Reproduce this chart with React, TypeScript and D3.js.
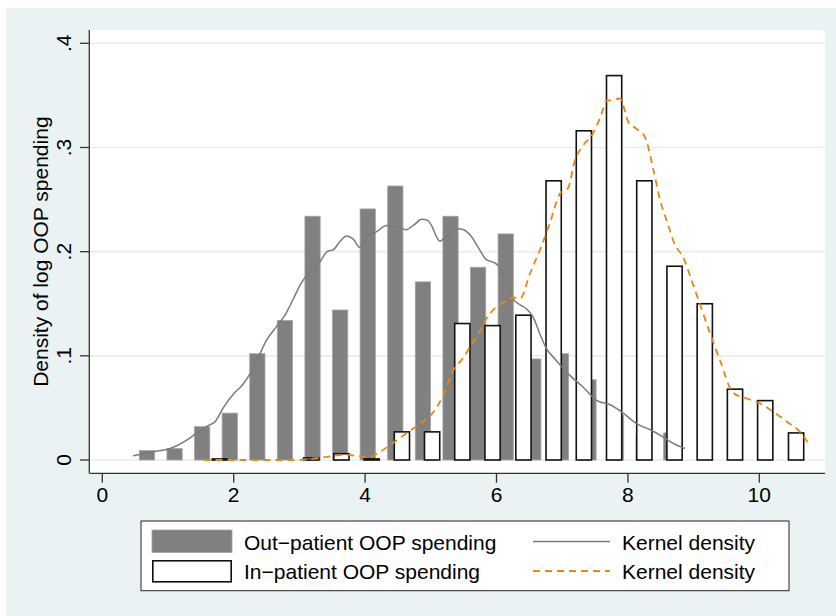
import React from 'react';
import * as d3 from 'd3';

// ---- Data ----
const X_TICKS = [0, 2, 4, 6, 8, 10];
const Y_TICKS = [0, 0.1, 0.2, 0.3, 0.4];
const Y_TICK_LABELS = ['0', '.1', '.2', '.3', '.4'];

const OUT_BINS = [0.68, 1.10, 1.52, 1.94, 2.36, 2.78, 3.20, 3.62, 4.04, 4.46, 4.88, 5.30, 5.72, 6.14, 6.56, 6.98, 7.40, 7.82, 8.24, 8.66];
const OUT_DENS = [0.009, 0.011, 0.032, 0.045, 0.102, 0.134, 0.234, 0.144, 0.241, 0.263, 0.171, 0.234, 0.185, 0.217, 0.097, 0.102, 0.077, 0.043, 0.023, 0.026];

const IN_BINS = [1.79, 2.25, 2.71, 3.18, 3.64, 4.10, 4.56, 5.02, 5.48, 5.94, 6.41, 6.87, 7.33, 7.79, 8.25, 8.71, 9.17, 9.63, 10.09, 10.56];
const IN_DENS = [0.001, 0, 0, 0.002, 0.006, 0.001, 0.027, 0.027, 0.131, 0.129, 0.139, 0.268, 0.316, 0.369, 0.268, 0.186, 0.150, 0.068, 0.057, 0.026];

const OUT_KDE_X = [0.47, 0.78, 1.03, 1.23, 1.44, 1.61, 1.72, 1.84, 2.02, 2.12, 2.25, 2.37, 2.50, 2.65, 2.78, 2.91, 3.03, 3.15, 3.31, 3.42, 3.52, 3.62, 3.72, 3.82, 3.92, 4.02, 4.17, 4.33, 4.50, 4.62, 4.75, 4.86, 4.95, 5.02, 5.09, 5.14, 5.22, 5.44, 5.60, 5.75, 5.85, 5.95, 6.05, 6.15, 6.26, 6.36, 6.46, 6.56, 6.66, 6.76, 6.89, 7.12, 7.30, 7.53, 7.73, 7.93, 8.13, 8.34, 8.54, 8.69, 8.87];
const OUT_KDE_Y = [0.004, 0.008, 0.011, 0.017, 0.026, 0.033, 0.037, 0.050, 0.065, 0.071, 0.083, 0.098, 0.115, 0.128, 0.139, 0.155, 0.170, 0.180, 0.190, 0.200, 0.202, 0.210, 0.215, 0.212, 0.204, 0.214, 0.219, 0.225, 0.224, 0.221, 0.226, 0.231, 0.230, 0.224, 0.214, 0.210, 0.214, 0.222, 0.216, 0.201, 0.192, 0.190, 0.185, 0.170, 0.154, 0.149, 0.145, 0.137, 0.121, 0.107, 0.097, 0.081, 0.071, 0.057, 0.053, 0.045, 0.035, 0.029, 0.022, 0.016, 0.011];

const IN_KDE_X = [1.54, 2.0, 2.5, 2.96, 3.16, 3.42, 3.67, 3.87, 4.05, 4.23, 4.43, 4.63, 4.84, 5.04, 5.19, 5.34, 5.49, 5.60, 5.75, 5.85, 6.00, 6.15, 6.26, 6.36, 6.51, 6.66, 6.81, 6.97, 7.09, 7.19, 7.32, 7.47, 7.58, 7.68, 7.78, 7.88, 8.01, 8.13, 8.26, 8.39, 8.49, 8.60, 8.72, 8.84, 8.95, 9.10, 9.25, 9.40, 9.60, 9.81, 10.01, 10.21, 10.42, 10.62, 10.77];
const IN_KDE_Y = [0.0, 0.0, 0.0, 0.0, 0.001, 0.003, 0.005, 0.004, 0.0026, 0.008, 0.0166, 0.0256, 0.035, 0.046, 0.062, 0.086, 0.0976, 0.109, 0.124, 0.136, 0.147, 0.153, 0.156, 0.155, 0.179, 0.2015, 0.227, 0.256, 0.261, 0.287, 0.302, 0.3135, 0.329, 0.345, 0.3455, 0.347, 0.324, 0.318, 0.310, 0.278, 0.2495, 0.228, 0.206, 0.195, 0.176, 0.149, 0.1216, 0.096, 0.0646, 0.059, 0.0544, 0.0464, 0.0368, 0.027, 0.0137];

const LEGEND_BAR_LABELS = ['Out\u2212patient OOP spending', 'In\u2212patient OOP spending'];
const LEGEND_LINE_LABELS = ['Kernel density', 'Kernel density'];
const Y_TITLE = 'Density of log OOP spending';

// ---- Layout ----
const W = 836;
const H = 616;
const PLOT_L = 89.3;
const PLOT_R = 825;
const PLOT_T = 30;
const PLOT_B = 473.3;
const BAR_W = 0.232;
const FONT = '"Liberation Sans", Arial, Helvetica, sans-serif';
const BG = '#EAF2F3';
const ORANGE = '#E8860F';

export default function App() {
  const x = d3.scaleLinear().domain([0, 10]).range([102.3, 759.3]);
  const y = d3.scaleLinear().domain([0, 0.4]).range([460, 43.3]);

  const line = d3
    .line<[number, number]>()
    .x((d) => x(d[0]))
    .y((d) => y(d[1]))
    .curve(d3.curveMonotoneX);

  const outKde = OUT_KDE_X.map((v, i) => [v, OUT_KDE_Y[i]] as [number, number]);
  const inKde = IN_KDE_X.map((v, i) => [v, IN_KDE_Y[i]] as [number, number]);

  const bw = x(BAR_W) - x(0);

  return (
    <svg
      width={W}
      height={H}
      style={{ position: 'absolute', left: 0, top: 0, background: '#ffffff' }}
      fontFamily={FONT}
    >
      <rect x={6} y={8} width={W - 6} height={H - 8} fill={BG} />
      <rect x={PLOT_L} y={PLOT_T} width={PLOT_R - PLOT_L} height={PLOT_B - PLOT_T} fill="#ffffff" />

      {/* grid */}
      {Y_TICKS.map((t) => (
        <line key={'g' + t} x1={PLOT_L} x2={PLOT_R} y1={y(t)} y2={y(t)} stroke="#E6EEF1" strokeWidth={1.6} />
      ))}

      {/* out-patient bars */}
      {OUT_BINS.map((c, i) => (
        <rect
          key={'o' + i}
          x={x(c) - bw / 2}
          y={y(OUT_DENS[i])}
          width={bw}
          height={y(0) - y(OUT_DENS[i])}
          fill="#808080"
          stroke="#A3A3A3"
          strokeWidth={0.8}
        />
      ))}

      {/* in-patient bars */}
      {IN_BINS.map((c, i) =>
        IN_DENS[i] > 0 ? (
          <rect
            key={'i' + i}
            x={x(c) - bw / 2}
            y={y(IN_DENS[i])}
            width={bw}
            height={y(0) - y(IN_DENS[i])}
            fill="#ffffff"
            stroke="#111111"
            strokeWidth={1.6}
          />
        ) : null
      )}

      {/* kernel densities */}
      <path d={line(outKde) || ''} fill="none" stroke="#7A7A7A" strokeWidth={1.5} />
      <path d={line(inKde) || ''} fill="none" stroke={ORANGE} strokeWidth={1.8} strokeDasharray="7,5" />

      {/* axes */}
      <line x1={PLOT_L} x2={PLOT_L} y1={PLOT_T} y2={PLOT_B} stroke="#333" strokeWidth={1.3} />
      <line x1={PLOT_L} x2={PLOT_R} y1={PLOT_B} y2={PLOT_B} stroke="#333" strokeWidth={1.3} />
      {Y_TICKS.map((t, i) => (
        <g key={'yt' + i}>
          <line x1={80} x2={PLOT_L} y1={y(t)} y2={y(t)} stroke="#333" strokeWidth={1.3} />
          <text
            transform={`translate(70.7,${y(t)}) rotate(-90)`}
            textAnchor="middle"
            fontSize={21}
            fill="#000"
          >
            {Y_TICK_LABELS[i]}
          </text>
        </g>
      ))}
      {X_TICKS.map((t) => (
        <g key={'xt' + t}>
          <line x1={x(t)} x2={x(t)} y1={PLOT_B} y2={PLOT_B + 9.5} stroke="#333" strokeWidth={1.3} />
          <text x={x(t)} y={502} textAnchor="middle" fontSize={21} fill="#000">
            {t}
          </text>
        </g>
      ))}
      <text
        transform={`translate(48.3,${(PLOT_T + PLOT_B) / 2}) rotate(-90)`}
        textAnchor="middle"
        fontSize={21}
        fill="#000"
      >
        {Y_TITLE}
      </text>

      {/* legend */}
      <rect x={141} y={521} width={648} height={69.7} fill="#ffffff" stroke="#222" strokeWidth={1} />
      <rect x={152} y={530} width={80} height={22.5} fill="#808080" stroke="#A3A3A3" strokeWidth={0.8} />
      <rect x={152.8} y={560.8} width={78.4} height={21} fill="#ffffff" stroke="#111" strokeWidth={1.6} />
      <text x={244} y={550} fontSize={21} fill="#000">
        {LEGEND_BAR_LABELS[0]}
      </text>
      <text x={244} y={579} fontSize={21} fill="#000">
        {LEGEND_BAR_LABELS[1]}
      </text>
      <line x1={533} x2={610} y1={541.5} y2={541.5} stroke="#7A7A7A" strokeWidth={1.5} />
      <line x1={533} x2={610} y1={571} y2={571} stroke={ORANGE} strokeWidth={1.8} strokeDasharray="7,5" />
      <text x={622} y={550} fontSize={21} fill="#000">
        {LEGEND_LINE_LABELS[0]}
      </text>
      <text x={622} y={579} fontSize={21} fill="#000">
        {LEGEND_LINE_LABELS[1]}
      </text>
    </svg>
  );
}
